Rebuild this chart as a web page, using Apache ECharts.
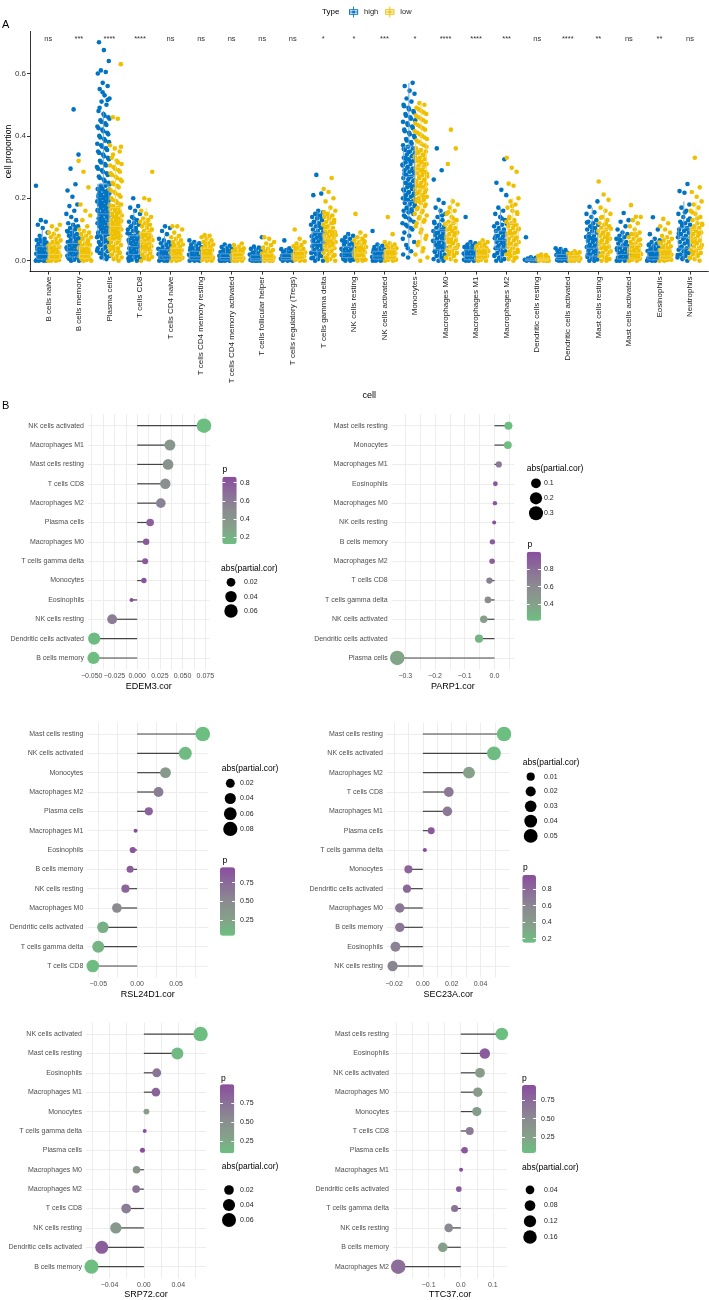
<!DOCTYPE html>
<html><head><meta charset="utf-8">
<script src="https://cdn.jsdelivr.net/npm/echarts@6/dist/echarts.min.js"></script>
<style>html,body{margin:0;padding:0;background:#fff}#c{width:709px;height:1300px}</style>
</head><body><div id="c"></div>
<script>
// ---------------- DATA: panel A ----------------
const cells = ['B cells naive','B cells memory','Plasma cells','T cells CD8','T cells CD4 naive','T cells CD4 memory resting','T cells CD4 memory activated','T cells follicular helper','T cells regulatory (Tregs)','T cells gamma delta','NK cells resting','NK cells activated','Monocytes','Macrophages M0','Macrophages M1','Macrophages M2','Dendritic cells resting','Dendritic cells activated','Mast cells resting','Mast cells activated','Eosinophils','Neutrophils'];
const sigLabels = ['ns','***','****','****','ns','ns','ns','ns','ns','*','*','***','*','****','****','***','ns','****','**','ns','**','ns'];
const groups = ['high','low'];
const yTicksA = [0, 0.2, 0.4, 0.6];
// box stats [min, q1, median, q3, max]
const highBox = [[0,.005,.02,.045,.1],[0,.012,.03,.055,.12],[0,.085,.15,.245,.48],[0,.02,.045,.08,.16],[0,.005,.015,.035,.08],[0,.003,.012,.03,.06],[0,.002,.01,.022,.05],[0,0,.006,.018,.04],[0,.003,.01,.022,.04],[0,.03,.055,.09,.16],[0,.01,.025,.045,.085],[0,.005,.015,.03,.055],[.02,.19,.27,.365,.57],[0,.035,.065,.1,.17],[0,.003,.015,.035,.06],[0,.04,.065,.095,.17],[0,0,.002,.006,.015],[0,.003,.01,.02,.04],[0,.015,.04,.085,.17],[0,.005,.02,.045,.1],[0,.003,.012,.03,.07],[0,.04,.075,.105,.19]];
const lowBox = [[0,.005,.02,.05,.1],[0,.008,.02,.045,.1],[0,.065,.11,.17,.32],[0,.03,.06,.09,.17],[0,.005,.015,.04,.08],[0,.005,.015,.04,.08],[0,.003,.012,.025,.05],[0,0,.008,.022,.05],[0,.005,.015,.03,.06],[0,.04,.07,.1,.17],[0,.01,.025,.05,.09],[0,.005,.015,.035,.06],[.02,.23,.3,.375,.51],[0,.04,.075,.12,.2],[0,.005,.018,.038,.065],[0,.045,.08,.12,.2],[0,0,.003,.008,.02],[0,.002,.008,.016,.03],[0,.02,.05,.1,.17],[0,.005,.025,.05,.11],[0,.005,.015,.035,.08],[0,.04,.07,.1,.19]];
// sample values (cell proportion), one list per cell type
const highPoints = [
[0,0,0,0,.002,.004,.006,.008,.01,.012,.015,.018,.02,.022,.025,.028,.03,.033,.036,.04,.043,.047,.05,.054,.058,.062,.066,.07,.08,.09,.105,.115,.125,.13,.24,.005,.014,.024,.034,.045,.056,.068],
[0,0,.003,.006,.01,.013,.016,.02,.023,.026,.03,.033,.036,.04,.043,.046,.05,.053,.056,.06,.064,.068,.072,.076,.08,.085,.09,.095,.1,.105,.11,.115,.12,.13,.14,.15,.16,.175,.18,.205,.225,.245,.295,.34,.485,.008,.018,.028,.038,.048,.058,.07,.082,.093,.108],
[.005,.01,.015,.02,.025,.03,.035,.04,.045,.05,.055,.06,.06,.065,.07,.075,.08,.08,.085,.09,.09,.095,.1,.1,.105,.11,.11,.115,.12,.12,.125,.13,.13,.135,.14,.14,.145,.15,.15,.155,.16,.16,.165,.17,.17,.175,.18,.18,.185,.19,.19,.195,.2,.2,.205,.21,.21,.215,.22,.22,.225,.23,.23,.24,.24,.25,.26,.27,.28,.29,.3,.31,.32,.33,.34,.35,.36,.37,.38,.39,.4,.41,.42,.43,.44,.45,.46,.47,.48,.5,.51,.52,.53,.55,.56,.57,.6,.605,.61,.64,.675,.7,
 .012,.022,.032,.042,.052,.062,.072,.082,.092,.102,.112,.122,.132,.142,.152,.162,.172,.182,.192,.202,.212,.222,.232,.245,.255,.265,.275,.285,.295,.305,.315,.325,.335,.345,.355,.365,.375,.385,.395,.405,.415,.425,.435,.445,.455,.465,.49,.515,.54],
[0,0,.003,.006,.01,.013,.016,.02,.023,.026,.03,.033,.036,.04,.043,.046,.05,.053,.056,.06,.063,.066,.07,.073,.076,.08,.085,.09,.095,.1,.105,.11,.115,.12,.125,.13,.14,.15,.16,.17,.175,.2,.008,.018,.028,.038,.048,.058,.068,.078,.088,.098,.108,.118,.135],
[0,0,0,.003,.006,.009,.012,.015,.018,.021,.024,.027,.03,.033,.036,.04,.044,.048,.052,.056,.06,.065,.07,.085,.095,.105,.11,.004,.014,.025,.038,.05],
[0,0,0,.002,.004,.006,.008,.01,.013,.016,.019,.022,.025,.028,.031,.034,.037,.04,.044,.048,.052,.056,.06,.065,.003,.012,.02,.03,.042],
[0,0,0,0,.002,.004,.006,.008,.01,.012,.014,.016,.018,.02,.022,.025,.028,.031,.034,.037,.04,.044,.048,.052,.003,.009,.015,.024,.033],
[0,0,0,0,.002,.004,.006,.008,.01,.012,.014,.017,.02,.023,.026,.03,.034,.038,.042,.045,.075,.003,.009,.015,.024],
[0,0,0,.002,.004,.006,.008,.01,.012,.014,.016,.018,.02,.022,.025,.028,.031,.034,.037,.04,.065,.003,.009,.015,.024],
[0,0,.005,.01,.015,.02,.025,.03,.034,.038,.042,.046,.05,.054,.058,.062,.066,.07,.074,.078,.082,.086,.09,.095,.1,.105,.11,.115,.12,.125,.13,.135,.14,.145,.15,.155,.16,.21,.215,.275,.008,.018,.028,.04,.052,.064,.076,.088,.1,.112,.124,.136,.148],
[0,0,.003,.006,.009,.012,.015,.018,.021,.024,.027,.03,.033,.036,.04,.044,.048,.052,.056,.06,.065,.07,.075,.08,.085,.005,.014,.025,.038,.05,.062],
[0,0,0,.002,.004,.006,.008,.01,.012,.015,.018,.021,.024,.027,.03,.033,.036,.04,.044,.048,.052,.095,.003,.009,.016,.025,.035],
[.01,.02,.03,.05,.06,.08,.09,.1,.11,.12,.13,.14,.15,.155,.16,.165,.17,.175,.18,.185,.19,.195,.2,.205,.21,.215,.22,.225,.23,.235,.24,.245,.25,.255,.26,.265,.27,.275,.28,.285,.29,.295,.3,.305,.31,.315,.32,.325,.33,.335,.34,.345,.35,.355,.36,.365,.37,.38,.39,.4,.41,.42,.43,.44,.45,.46,.47,.48,.49,.5,.51,.52,.535,.545,.56,.57,
 .04,.07,.105,.115,.125,.135,.145,.158,.168,.178,.188,.198,.208,.218,.228,.238,.248,.258,.268,.278,.288,.298,.308,.318,.328,.338,.348,.358,.375,.385,.395,.405,.415,.425,.435,.445,.455,.465,.475,.485,.495],
[0,0,.005,.01,.015,.02,.025,.03,.034,.038,.042,.046,.05,.054,.058,.062,.066,.07,.074,.078,.082,.086,.09,.095,.1,.105,.11,.115,.12,.13,.14,.15,.16,.17,.185,.195,.26,.29,.36,.008,.018,.028,.04,.052,.064,.076,.088,.1,.112,.125,.145],
[0,0,0,.003,.006,.009,.012,.015,.018,.021,.024,.027,.03,.033,.036,.04,.044,.048,.052,.056,.06,.14,.004,.013,.023,.034,.046],
[0,0,.005,.01,.015,.02,.025,.03,.035,.04,.044,.048,.052,.056,.06,.064,.068,.072,.076,.08,.085,.09,.095,.1,.105,.11,.115,.12,.13,.14,.15,.16,.17,.21,.227,.25,.325,.008,.018,.028,.042,.054,.066,.078,.09,.102,.118,.135],
[0,0,0,0,.002,.003,.005,.007,.009,.011,.075],
[0,0,0,.002,.004,.006,.008,.01,.012,.014,.016,.018,.02,.022,.025,.028,.031,.034,.037,.04,.003,.009,.015,.024],
[0,0,.004,.008,.012,.016,.02,.024,.028,.032,.036,.04,.044,.048,.052,.056,.06,.064,.068,.072,.076,.08,.085,.09,.095,.1,.105,.11,.115,.12,.125,.13,.14,.15,.155,.173,.19,.006,.018,.03,.042,.054,.066,.078,.092,.108,.122],
[0,0,0,.003,.006,.009,.012,.015,.018,.021,.024,.027,.03,.034,.038,.042,.046,.05,.055,.06,.065,.07,.075,.08,.085,.09,.1,.11,.125,.13,.153,.005,.016,.028,.04,.052,.066,.08],
[0,0,0,.002,.004,.006,.008,.01,.013,.016,.019,.022,.025,.028,.031,.034,.038,.042,.046,.05,.055,.06,.065,.07,.085,.1,.139,.003,.011,.02,.03,.04,.052],
[0,.005,.01,.015,.02,.025,.03,.035,.04,.045,.05,.055,.06,.065,.07,.075,.08,.085,.09,.095,.1,.105,.11,.115,.12,.125,.13,.14,.15,.16,.17,.18,.218,.223,.246,.008,.018,.028,.042,.058,.072,.088,.102,.118,.135,.155]
];
const lowPoints = [
[0,0,0,.002,.005,.008,.01,.013,.016,.02,.023,.026,.03,.033,.036,.04,.044,.048,.052,.056,.06,.065,.07,.075,.08,.085,.09,.1,.11,.115,.004,.012,.022,.034,.046,.058],
[0,0,.002,.005,.008,.011,.014,.017,.02,.023,.026,.03,.033,.036,.04,.043,.047,.05,.055,.06,.065,.07,.075,.08,.085,.09,.095,.1,.11,.13,.145,.16,.18,.235,.285,.32,.004,.012,.022,.032,.044,.058,.072],
[0,.005,.01,.015,.02,.025,.03,.035,.04,.045,.05,.055,.06,.065,.07,.07,.075,.08,.08,.085,.09,.09,.095,.1,.1,.105,.11,.11,.115,.12,.12,.125,.13,.13,.135,.14,.145,.15,.15,.155,.16,.165,.17,.175,.18,.19,.2,.21,.22,.23,.24,.25,.26,.27,.28,.29,.3,.31,.32,.33,.35,.36,.37,.455,.46,.63,
 .008,.018,.028,.038,.048,.058,.068,.078,.088,.098,.108,.118,.128,.138,.148,.158,.168,.178,.185,.195,.205,.215,.225,.235,.245,.255,.265,.275,.285,.295,.305,.315,.34,.365],
[0,.004,.008,.012,.016,.02,.025,.03,.034,.038,.042,.046,.05,.054,.058,.062,.066,.07,.074,.078,.082,.086,.09,.095,.1,.105,.11,.115,.12,.125,.13,.135,.14,.15,.16,.195,.2,.285,.006,.018,.032,.045,.06,.072,.085,.1,.118],
[0,0,.003,.006,.009,.012,.015,.018,.021,.024,.027,.03,.033,.036,.04,.044,.048,.052,.056,.06,.065,.07,.075,.08,.09,.1,.11,.11,.005,.014,.026,.038,.05],
[0,0,.002,.004,.007,.01,.013,.016,.019,.022,.025,.028,.031,.034,.037,.04,.044,.048,.052,.056,.06,.065,.07,.075,.08,.082,.005,.015,.027,.04,.054],
[0,0,0,.002,.004,.006,.008,.01,.012,.014,.016,.018,.02,.022,.025,.028,.031,.034,.037,.04,.045,.05,.055,.003,.009,.016,.026,.035],
[0,0,0,.002,.004,.006,.008,.01,.012,.014,.017,.02,.023,.026,.03,.034,.038,.042,.05,.055,.06,.07,.075,.003,.009,.016,.025],
[0,0,.002,.004,.006,.008,.01,.012,.014,.016,.018,.02,.023,.026,.03,.034,.038,.042,.046,.05,.055,.06,.07,.1,.003,.011,.019,.028,.04],
[0,0,.005,.01,.015,.02,.025,.03,.035,.04,.044,.048,.052,.056,.06,.064,.068,.072,.076,.08,.084,.088,.092,.096,.1,.105,.11,.115,.12,.125,.13,.135,.14,.145,.15,.16,.17,.19,.2,.22,.23,.265,.008,.018,.028,.042,.055,.068,.082,.095,.108,.122,.138,.155],
[0,0,.003,.006,.009,.012,.015,.018,.021,.024,.027,.03,.033,.036,.04,.044,.048,.052,.056,.06,.065,.07,.075,.08,.09,.15,.005,.014,.026,.038,.05,.062],
[0,0,.002,.004,.006,.008,.01,.012,.015,.018,.021,.024,.027,.03,.033,.036,.04,.044,.048,.052,.056,.06,.085,.14,.003,.01,.019,.029,.04],
[0,.02,.04,.06,.08,.1,.12,.13,.14,.15,.16,.17,.18,.185,.19,.195,.2,.205,.21,.215,.22,.225,.23,.235,.24,.245,.25,.255,.26,.265,.27,.275,.28,.285,.29,.295,.3,.305,.31,.315,.32,.325,.33,.335,.34,.345,.35,.355,.36,.37,.38,.39,.4,.41,.42,.43,.44,.45,.46,.47,.48,.49,.5,.505,
 .01,.03,.05,.07,.09,.11,.125,.135,.145,.155,.165,.175,.188,.198,.208,.218,.228,.238,.248,.258,.268,.278,.288,.298,.308,.318,.328,.338,.348,.365,.375,.385,.395,.405,.415,.425,.435,.445,.455,.465,.475,.485],
[0,.005,.01,.015,.02,.025,.03,.035,.04,.045,.05,.055,.06,.065,.07,.075,.08,.085,.09,.095,.1,.105,.11,.115,.12,.125,.13,.14,.15,.16,.17,.18,.19,.31,.36,.42,.008,.018,.028,.042,.058,.072,.088,.102,.118,.135,.155],
[0,0,.003,.006,.009,.012,.015,.018,.021,.024,.027,.03,.033,.036,.04,.044,.048,.052,.056,.06,.065,.005,.014,.025,.037,.05],
[0,.005,.01,.015,.02,.025,.03,.035,.04,.045,.05,.055,.06,.065,.07,.075,.08,.085,.09,.095,.1,.105,.11,.115,.12,.125,.13,.14,.15,.16,.17,.18,.19,.2,.24,.247,.285,.298,.33,.008,.018,.028,.042,.058,.072,.088,.102,.118,.135,.155,.175],
[0,0,0,0,.002,.004,.006,.008,.01,.012,.015,.018,.02],
[0,0,0,.002,.004,.006,.008,.01,.012,.014,.016,.018,.021,.024,.027,.03,.003,.009,.015,.022],
[0,0,.005,.01,.015,.02,.025,.03,.035,.04,.045,.05,.055,.06,.065,.07,.075,.08,.085,.09,.095,.1,.105,.11,.115,.12,.13,.14,.15,.16,.17,.195,.212,.254,.008,.018,.028,.042,.058,.072,.088,.102,.118,.138],
[0,0,.003,.006,.009,.012,.015,.018,.021,.024,.027,.03,.034,.038,.042,.046,.05,.055,.06,.065,.07,.075,.08,.085,.09,.1,.11,.12,.13,.14,.141,.178,.005,.016,.028,.04,.052,.068,.085],
[0,0,.002,.004,.006,.008,.01,.013,.016,.019,.022,.025,.028,.031,.034,.038,.042,.046,.05,.055,.06,.065,.07,.075,.08,.09,.1,.11,.12,.134,.003,.012,.022,.033,.045,.058],
[0,.005,.01,.015,.02,.025,.03,.035,.04,.045,.05,.055,.06,.065,.07,.075,.08,.085,.09,.095,.1,.105,.11,.115,.12,.13,.14,.15,.16,.17,.18,.19,.205,.22,.235,.33,.008,.018,.028,.042,.058,.072,.088,.102,.118,.135,.155]
];

// ---------------- DATA: panel B ----------------
const edemCells = ['NK cells activated','Macrophages M1','Mast cells resting','T cells CD8','Macrophages M2','Plasma cells','Macrophages M0','T cells gamma delta','Monocytes','Eosinophils','NK cells resting','Dendritic cells activated','B cells memory'];
const edemCor = [0.0735,0.036,0.034,0.031,0.026,0.0143,0.0099,0.0088,0.0074,-0.0062,-0.0275,-0.0473,-0.048];
const edemP = [0.124,0.40,0.42,0.45,0.55,0.75,0.80,0.80,0.83,0.865,0.58,0.14,0.13];
const edemTicks = [-0.05,-0.025,0,0.025,0.05,0.075];
const edemGrid = [-0.05,-0.0375,-0.025,-0.0125,0,0.0125,0.025,0.0375,0.05,0.0625,0.075];
const edemPBreaks = [0.2,0.4,0.6,0.8];
const edemSizeBreaks = [0.02,0.04,0.06];

const parpCells = ['Mast cells resting','Monocytes','Macrophages M1','Eosinophils','Macrophages M0','NK cells resting','B cells memory','Macrophages M2','T cells CD8','T cells gamma delta','NK cells activated','Dendritic cells activated','Plasma cells'];
const parpCor = [0.047,0.045,0.0146,0.003,0.0015,-0.001,-0.007,-0.008,-0.017,-0.022,-0.036,-0.052,-0.327];
const parpP = [0.215,0.23,0.72,0.93,0.94,0.995,0.9,0.88,0.68,0.58,0.42,0.26,0.38];
const parpTicks = [-0.3,-0.2,-0.1,0];
const parpGrid = [-0.3,-0.25,-0.2,-0.15,-0.1,-0.05,0,0.05];
const parpPBreaks = [0.4,0.6,0.8];
const parpSizeBreaks = [0.1,0.2,0.3];

const rslCells = ['Mast cells resting','NK cells activated','Monocytes','Macrophages M2','Plasma cells','Macrophages M1','Eosinophils','B cells memory','NK cells resting','Macrophages M0','Dendritic cells activated','T cells gamma delta','T cells CD8'];
const rslCor = [0.0845,0.062,0.0365,0.0275,0.015,-0.002,-0.0056,-0.009,-0.015,-0.026,-0.044,-0.050,-0.057];
const rslP = [0.04,0.07,0.35,0.6,0.8,0.956,0.9,0.85,0.78,0.5,0.15,0.12,0.06];
const rslTicks = [-0.05,0,0.05];
const rslGrid = [-0.05,-0.025,0,0.025,0.05,0.075];
const rslPBreaks = [0.25,0.5,0.75];
const rslSizeBreaks = [0.02,0.04,0.06,0.08];

const secCells = ['Mast cells resting','NK cells activated','Macrophages M2','T cells CD8','Macrophages M1','Plasma cells','T cells gamma delta','Monocytes','Dendritic cells activated','Macrophages M0','B cells memory','Eosinophils','NK cells resting'];
const secCor = [0.0563,0.0493,0.032,0.018,0.017,0.0058,0.0014,-0.010,-0.011,-0.016,-0.016,-0.019,-0.021];
const secP = [0.152,0.17,0.36,0.68,0.69,0.9,0.969,0.82,0.8,0.7,0.7,0.62,0.6];
const secTicks = [-0.02,0,0.02,0.04];
const secGrid = [-0.02,-0.01,0,0.01,0.02,0.03,0.04,0.05];
const secPBreaks = [0.2,0.4,0.6,0.8];
const secSizeBreaks = [0.01,0.02,0.03,0.04,0.05];

const srpCells = ['NK cells activated','Mast cells resting','Eosinophils','Macrophages M1','Monocytes','T cells gamma delta','Plasma cells','Macrophages M0','Macrophages M2','T cells CD8','NK cells resting','Dendritic cells activated','B cells memory'];
const srpCor = [0.066,0.039,0.015,0.014,0.003,0.001,-0.0016,-0.0085,-0.009,-0.0206,-0.0326,-0.049,-0.061];
const srpP = [0.09,0.12,0.72,0.85,0.35,0.97,1.0,0.45,0.72,0.65,0.4,0.88,0.1];
const srpTicks = [-0.04,0,0.04];
const srpGrid = [-0.06,-0.04,-0.02,0,0.02,0.04,0.06];
const srpPBreaks = [0.25,0.5,0.75];
const srpSizeBreaks = [0.02,0.04,0.06];

const ttcCells = ['Mast cells resting','Eosinophils','NK cells activated','Macrophages M0','Monocytes','T cells CD8','Plasma cells','Macrophages M1','Dendritic cells activated','T cells gamma delta','NK cells resting','B cells memory','Macrophages M2'];
const ttcCor = [0.128,0.075,0.06,0.053,0.05,0.028,0.012,0.001,-0.006,-0.019,-0.0375,-0.056,-0.195];
const ttcP = [0.04,0.85,0.3,0.32,0.3,0.62,0.88,0.95,0.85,0.68,0.5,0.28,0.72];
const ttcTicks = [-0.1,0,0.1];
const ttcGrid = [-0.2,-0.15,-0.1,-0.05,0,0.05,0.1];
const ttcPBreaks = [0.25,0.5,0.75];
const ttcSizeBreaks = [0.04,0.08,0.12,0.16];

// ---------------- STYLE / LAYOUT ----------------
const FONT = '"Liberation Sans", Arial, Helvetica, sans-serif';
const HIGH = '#0073C2', LOW = '#EFC000';
const BOXCOL = ['#5d9fd8', '#f5d562'];
const PAL = ['#6cbf80','#86a08a','#8b8b90','#8b6e99','#8a4d9e'];
const GRIDCOL = '#e9e9e9';
const OFF = [-0.2, 0.2], JIT = 0.21, BOXHW = 0.18, DOT = 4.6;
const BOXICON = 'path://M5.5,0H6.5V3H5.5Z M1,3H11V9H1Z M2,4V8H10V4Z M1,5.5H11V6.5H1Z M4.6,4.6H7.4V7.4H4.6Z M5.5,9H6.5V12H5.5Z';

const panels = [
 {name:'EDEM3.cor', cells:edemCells, cor:edemCor, p:edemP, ticks:edemTicks, grid:edemGrid, pBreaks:edemPBreaks, sBreaks:edemSizeBreaks, dx:3, dp:1, ds:2,
  L:{g:[88,414.1,121.5,255.5], pTitle:[222.5,465], pBar:[222.3,476.7,14.4,67.3], pLab:240, sTitle:[221,564], sGrid:[224,575.1,14,43], sLab:244}},
 {name:'PARP1.cor', cells:parpCells, cor:parpCor, p:parpP, ticks:parpTicks, grid:parpGrid, pBreaks:parpPBreaks, sBreaks:parpSizeBreaks, dx:1, dp:1, ds:1,
  L:{g:[391.7,414.1,122.3,255.5], sTitle:[526.7,464], sGrid:[529,475.8,14,45], sLab:544, pTitle:[527.5,540], pBar:[526.7,551.7,14.3,69], pLab:544}},
 {name:'RSL24D1.cor', cells:rslCells, cor:rslCor, p:rslP, ticks:rslTicks, grid:rslGrid, pBreaks:rslPBreaks, sBreaks:rslSizeBreaks, dx:2, dp:2, ds:2,
  L:{g:[87.3,722.4,121,255.2], sTitle:[221.7,764], sGrid:[223.3,775.7,14,60.8], sLab:240, pTitle:[222.5,856], pBar:[220,867.3,15,68.4], pLab:240}},
 {name:'SEC23A.cor', cells:secCells, cor:secCor, p:secP, ticks:secTicks, grid:secGrid, pBreaks:secPBreaks, sBreaks:secSizeBreaks, dx:2, dp:1, ds:2,
  L:{g:[387,722.4,122.6,255.2], sTitle:[522.7,758], sGrid:[523.7,769.3,14,74], sLab:544, pTitle:[523,863], pBar:[522.3,875,13.7,67.7], pLab:542}},
 {name:'SRP72.cor', cells:srpCells, cor:srpCor, p:srpP, ticks:srpTicks, grid:srpGrid, pBreaks:srpPBreaks, sBreaks:srpSizeBreaks, dx:2, dp:2, ds:2,
  L:{g:[86,1022.4,120,255.9], pTitle:[221,1074], pBar:[220,1084.3,14.3,69], pLab:240, sTitle:[221.7,1162.5], sGrid:[222,1182.5,14,45], sLab:240}},
 {name:'TTC37.cor', cells:ttcCells, cor:ttcCor, p:ttcP, ticks:ttcTicks, grid:ttcGrid, pBreaks:ttcPBreaks, sBreaks:ttcSizeBreaks, dx:1, dp:2, ds:2,
  L:{g:[393,1022.4,114,255.9], pTitle:[522,1074], pBar:[522,1085,14,68], pLab:541, sTitle:[522,1163], sGrid:[523,1182,14,62.8], sLab:544}}
];

function fmt(v, d) { if (Math.abs(v) < 1e-12) v = 0; return v.toFixed(d).replace('-', '\u2212'); }
const G = (l, t, w, h) => ({left:l, top:t, width:w, height:h, containLabel:false, outerBoundsMode:'none'});

// ---------------- BUILD ----------------
const chart = echarts.init(document.getElementById('c'), null, {renderer:'canvas'});
const option = {animation:false, backgroundColor:'#fff', textStyle:{fontFamily:FONT},
  title:[], grid:[], xAxis:[], yAxis:[], series:[], visualMap:[]};
const T = (text, left, top, size, color, weight) => option.title.push({text, left, top, padding:0,
  textStyle:{fontSize:size, color:color||'#000', fontWeight:weight||'normal', fontFamily:FONT}});

T('A', 2, 19, 11); T('B', 2, 400, 11); T('Type', 322, 8, 8);

// Panel A
const catIdx = cells.map((_, i) => i);
const allA = highPoints.flat().concat(lowPoints.flat());
const aMax = Math.max(...allA), aMin = Math.min(0, ...allA);
const aPad = 0.05 * (aMax - aMin);
option.grid.push(G(30, 31.4, 678.3, 240.2));
option.xAxis.push({gridIndex:0, type:'value', min:-0.6, max:cells.length - 0.4,
  axisLine:{onZero:false, lineStyle:{color:'#000', width:0.8}},
  axisTick:{customValues:catIdx, length:3, lineStyle:{color:'#000', width:0.8}},
  axisLabel:{customValues:catIdx, formatter:v => cells[Math.round(v)], rotate:90, fontSize:8, color:'#1a1a1a', margin:5, fontFamily:FONT},
  splitLine:{show:false}, name:'cell', nameLocation:'middle', nameGap:119, nameMoveOverlap:false,
  nameTextStyle:{fontSize:9, color:'#000', fontFamily:FONT}});
option.xAxis.push({gridIndex:0, type:'value', position:'top', min:-0.6, max:cells.length - 0.4,
  axisLine:{show:false, onZero:false}, axisTick:{show:false, customValues:catIdx},
  axisLabel:{customValues:catIdx, formatter:v => sigLabels[Math.round(v)], inside:true, margin:4, fontSize:7.5, color:'#333', fontFamily:FONT},
  splitLine:{show:false}});
option.yAxis.push({gridIndex:0, type:'value', min:aMin - aPad, max:aMax + aPad,
  axisLine:{show:true, onZero:false, lineStyle:{color:'#000', width:0.8}},
  axisTick:{show:true, customValues:yTicksA, length:3, lineStyle:{color:'#000', width:0.8}},
  axisLabel:{customValues:yTicksA, formatter:v => v.toFixed(1), fontSize:8, color:'#333', margin:4, fontFamily:FONT},
  splitLine:{show:false}, name:'cell proportion', nameLocation:'middle', nameGap:17, nameMoveOverlap:false,
  nameTextStyle:{fontSize:8.5, color:'#000', fontFamily:FONT}});

function jitter(points, off) {
  const out = [];
  points.forEach((arr, i) => arr.forEach((v, k) => {
    const j = (((k * 0.6180339887 + i * 0.37) % 1) - 0.5) * 2 * JIT;
    out.push([i + off + j, v]);
  }));
  return out;
}
[highPoints, lowPoints].forEach((pts, g) => {
  option.series.push({type:'scatter', name:groups[g], xAxisIndex:0, yAxisIndex:0, symbolSize:DOT, silent:true, z:2,
    itemStyle:{color:g === 0 ? HIGH : LOW, opacity:1}, data:jitter(pts, OFF[g])});
});
function boxRender(off, stroke) {
  return function (params, api) {
    const i = api.value(0);
    const y = v => api.coord([i + off, v])[1];
    const cx = api.coord([i + off, 0])[0];
    const hw = api.size([BOXHW, 0])[0];
    const mn = api.value(1), q1 = api.value(2), md = api.value(3), q3 = api.value(4), mx = api.value(5);
    const st = {stroke, lineWidth:0.9, fill:null};
    return {type:'group', children:[
      {type:'rect', shape:{x:cx - hw, y:y(q3), width:2 * hw, height:y(q1) - y(q3)}, style:st},
      {type:'line', shape:{x1:cx - hw, y1:y(md), x2:cx + hw, y2:y(md)}, style:st},
      {type:'line', shape:{x1:cx, y1:y(q3), x2:cx, y2:y(mx)}, style:st},
      {type:'line', shape:{x1:cx, y1:y(q1), x2:cx, y2:y(mn)}, style:st}]};
  };
}
[highBox, lowBox].forEach((bx, g) => {
  option.series.push({type:'custom', xAxisIndex:0, yAxisIndex:0, silent:true, z:3,
    renderItem:boxRender(OFF[g], BOXCOL[g]), encode:{x:0, y:[1,2,3,4,5]},
    data:bx.map((b, i) => [i, ...b])});
});
option.legend = {data:groups.map(n => ({name:n, icon:BOXICON})), left:349, top:6.5, itemWidth:11, itemHeight:11,
  itemGap:7, padding:0, selectedMode:false, textStyle:{fontSize:7.5, color:'#222', fontFamily:FONT}};

// Panel B
panels.forEach(P => {
  const L = P.L;
  const n = P.cells.length;
  const rows = P.cells.map((_, i) => i);
  const xmin = Math.min(0, ...P.cor), xmax = Math.max(0, ...P.cor);
  const xp = 0.05 * (xmax - xmin);
  const abs = P.cor.map(Math.abs);
  const aLo = Math.min(...abs), aHi = Math.max(...abs);
  const size = v => 4 + 10.5 * Math.sqrt(Math.max(0, (v - aLo) / (aHi - aLo)));

  const gi = option.grid.length;
  option.grid.push(G(L.g[0], L.g[1], L.g[2], L.g[3]));
  const xi = option.xAxis.length, yi = option.yAxis.length;
  option.xAxis.push({gridIndex:gi, type:'value', min:xmin - xp, max:xmax + xp,
    axisLine:{show:false, onZero:false}, axisTick:{show:false, customValues:P.grid},
    axisLabel:{customValues:P.ticks, formatter:v => fmt(v, P.dx), fontSize:7, color:'#4d4d4d', margin:3, fontFamily:FONT},
    splitLine:{show:true, lineStyle:{color:GRIDCOL, width:0.8}},
    name:P.name, nameLocation:'middle', nameGap:12, nameMoveOverlap:false,
    nameTextStyle:{fontSize:9, color:'#000', fontFamily:FONT}});
  option.yAxis.push({gridIndex:gi, type:'value', inverse:true, min:-0.6, max:n - 0.4,
    axisLine:{show:false, onZero:false}, axisTick:{show:false, customValues:rows},
    axisLabel:{customValues:rows, formatter:v => P.cells[Math.round(v)], fontSize:7, color:'#4d4d4d', margin:4, fontFamily:FONT},
    splitLine:{show:true, lineStyle:{color:GRIDCOL, width:0.8}}});
  option.series.push({type:'custom', xAxisIndex:xi, yAxisIndex:yi, silent:true, z:2, encode:{x:0, y:1},
    renderItem:(params, api) => {
      const a = api.coord([0, api.value(1)]), b = api.coord([api.value(0), api.value(1)]);
      return {type:'line', shape:{x1:a[0], y1:a[1], x2:b[0], y2:b[1]}, style:{stroke:'#454545', lineWidth:1.2}};
    },
    data:P.cor.map((v, i) => [v, i])});
  const si = option.series.length;
  option.series.push({type:'scatter', xAxisIndex:xi, yAxisIndex:yi, silent:true, z:3,
    symbolSize:d => size(d[3]), itemStyle:{opacity:1},
    data:P.cor.map((v, i) => [v, i, P.p[i], Math.abs(v)])});
  const pMin = Math.min(...P.p), pMax = Math.max(...P.p);
  option.visualMap.push({type:'continuous', seriesIndex:si, dimension:2, min:pMin, max:pMax,
    inRange:{color:PAL}, left:L.pBar[0], top:L.pBar[1], itemWidth:L.pBar[2], itemHeight:L.pBar[3],
    calculable:false, padding:0, text:null, hoverLink:false, orient:'vertical', z:4});

  const cg = option.grid.length;
  option.grid.push(G(L.pBar[0], L.pBar[1], L.pBar[2], L.pBar[3]));
  option.xAxis.push({gridIndex:cg, type:'value', show:false, min:0, max:1});
  ['right','left'].forEach((pos, k) => option.yAxis.push({gridIndex:cg, type:'value', position:pos, min:pMin, max:pMax, z:6,
    axisLine:{show:false, onZero:false}, splitLine:{show:false},
    axisTick:{show:true, inside:true, length:3, customValues:P.pBreaks, lineStyle:{color:'#fff', width:1}},
    axisLabel:{show:k === 0, customValues:P.pBreaks, formatter:v => fmt(v, P.dp), fontSize:7, color:'#222',
      margin:L.pLab - L.pBar[0] - L.pBar[2], fontFamily:FONT}}));
  T('p', L.pTitle[0], L.pTitle[1], 8.5);

  const sg = option.grid.length;
  const m = P.sBreaks.length;
  option.grid.push(G(L.sGrid[0], L.sGrid[1], L.sGrid[2], L.sGrid[3]));
  const sx = option.xAxis.length, sy = option.yAxis.length;
  option.xAxis.push({gridIndex:sg, type:'value', show:false, min:-1, max:1});
  const sRows = P.sBreaks.map((_, i) => i);
  option.yAxis.push({gridIndex:sg, type:'value', position:'right', inverse:true, min:-0.5, max:m - 0.5,
    axisLine:{show:false, onZero:false}, splitLine:{show:false}, axisTick:{show:false, customValues:sRows},
    axisLabel:{customValues:sRows, formatter:v => fmt(P.sBreaks[Math.round(v)], P.ds), fontSize:7, color:'#222',
      margin:L.sLab - L.sGrid[0] - L.sGrid[2], fontFamily:FONT}});
  option.series.push({type:'scatter', xAxisIndex:sx, yAxisIndex:sy, silent:true,
    symbolSize:d => size(d[2]), itemStyle:{color:'#000', opacity:1},
    data:P.sBreaks.map((b, i) => [0, i, b])});
  T('abs(partial.cor)', L.sTitle[0], L.sTitle[1], 8.5);
});

chart.setOption(option);
</script></body></html>
